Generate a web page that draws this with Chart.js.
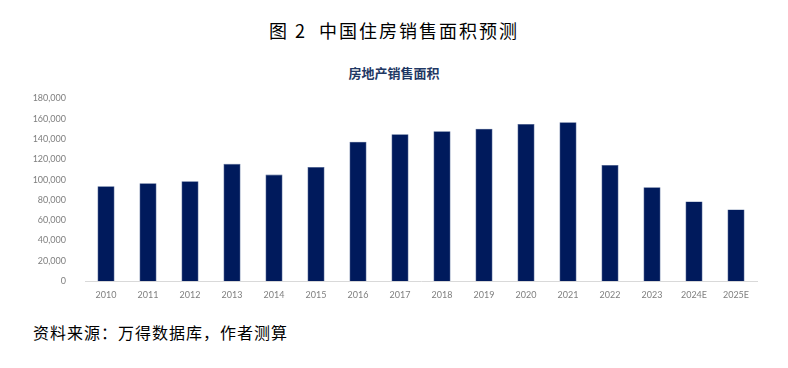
<!DOCTYPE html>
<html>
<head>
<meta charset="utf-8">
<script src="https://cdn.jsdelivr.net/npm/chart.js@4/dist/chart.umd.min.js"></script>
<style>
  html, body { margin:0; padding:0; background:#fff; }
  #page { position:relative; width:788px; height:368px; overflow:hidden; }
  .fig-title { position:absolute; left:0; width:788px; top:17px; text-align:center;
    font-family:"Noto Sans CJK SC", sans-serif; font-size:18px; color:#000; letter-spacing:2px; }
  .sub-title { position:absolute; left:0; width:788px; top:63px; text-align:center;
    font-family:"Noto Sans CJK SC", sans-serif; font-size:13px; font-weight:bold; color:#1F3864; }
  .source { position:absolute; left:33px; top:320px;
    font-family:"Noto Sans CJK SC", sans-serif; font-size:16px; color:#000; letter-spacing:1px; }
  .chart-wrap { position:absolute; left:0; top:82px; width:788px; height:218px; }
</style>
</head>
<body>
<div id="page">
  <div class="fig-title">图 2&nbsp;&nbsp;中国住房销售面积预测</div>
  <div class="sub-title">房地产销售面积</div>
  <div class="chart-wrap"><canvas id="chart"></canvas></div>
  <div class="source">资料来源：万得数据库，作者测算</div>
</div>
<script>
// 住房销售面积（万平方米），2024E / 2025E 为预测
const years = ['2010','2011','2012','2013','2014','2015','2016','2017','2018','2019','2020','2021','2022','2023','2024E','2025E'];
const salesArea = [93400, 96500, 98500, 115600, 105000, 112400, 137300, 144600, 147600, 150100, 154800, 156500, 114500, 92500, 78600, 70600];
const yMax = 180000;
const yStep = 20000;

const barColor = '#001A5C';
const tickColor = '#7F7F7F';

new Chart(document.getElementById('chart').getContext('2d'), {
  type: 'bar',
  data: {
    labels: years,
    datasets: [{ label: '房地产销售面积', data: salesArea,
      backgroundColor: barColor, borderColor: '#3B5386', borderWidth: 0.6,
      categoryPercentage: 1, barPercentage: 0.405 }]
  },
  options: {
    responsive: true, maintainAspectRatio: false, animation: false,
    layout: { padding: { top: 2, right: 31, left: 0, bottom: 0 } },
    plugins: { legend: { display: false }, tooltip: { enabled: false } },
    scales: {
      x: {
        grid: { display: false },
        border: { display: true, color: '#D9D9D9', width: 1 },
        ticks: { color: tickColor, font: { family: 'Lato', size: 9 }, padding: 0, maxRotation: 0, autoSkip: false }
      },
      y: {
        min: 0, max: yMax,
        afterFit: s => { s.width = 85; },
        grid: { display: false },
        border: { display: false },
        ticks: { stepSize: yStep, color: tickColor, font: { family: 'Lato', size: 9 }, padding: 11,
          callback: v => v.toLocaleString('en-US') }
      }
    }
  }
});
</script>
</body>
</html>
